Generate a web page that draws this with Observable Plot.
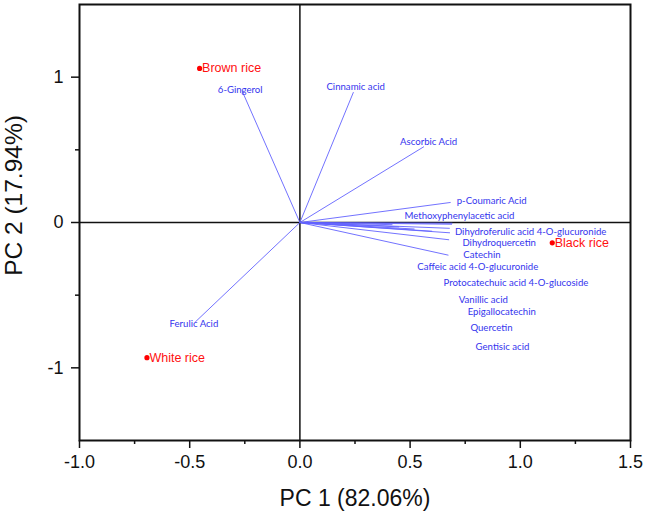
<!DOCTYPE html>
<html>
<head>
<meta charset="utf-8">
<script src="https://cdn.jsdelivr.net/npm/d3@7"></script>
<script src="https://cdn.jsdelivr.net/npm/@observablehq/plot@0.6"></script>
<style>
  html, body { margin: 0; padding: 0; background: #fff; }
</style>
</head>
<body>
<div id="chart"></div>
<script>
// Sample scores
const samples = ["Brown rice", "Black rice", "White rice"];
const samplePC1 = [-0.455, 1.145, -0.694];
const samplePC2 = [1.06, -0.14, -0.93];

// Variable loadings (arrow ends) and label positions
const variables = [
  "6-Gingerol", "Cinnamic acid", "Ascorbic Acid", "p-Coumaric Acid",
  "Methoxyphenylacetic acid", "Dihydroferulic acid 4-O-glucuronide",
  "Dihydroquercetin", "Catechin", "Caffeic acid 4-O-glucuronide",
  "Protocatechuic acid 4-O-glucoside", "Vanillic acid", "Epigallocatechin",
  "Quercetin", "Gentisic acid", "Ferulic Acid"
];
const loadPC1 = [-0.263, 0.243, 0.563, 0.684, 0.692, 0.681, 0.677, 0.674, 0.690, 0.420, 0.680, 0.520, 0.450, 0.600, -0.475];
const loadPC2 = [0.908, 0.897, 0.522, 0.138, -0.005, -0.071, -0.119, -0.225, -0.012, -0.015, -0.040, -0.045, -0.030, -0.060, -0.685];
const labelPC1 = [-0.271, 0.253, 0.584, 0.870, 0.724, 1.047, 0.904, 0.826, 0.807, 0.980, 0.832, 0.916, 0.869, 0.919, -0.481];
const labelPC2 = [0.915, 0.931, 0.552, 0.148, 0.046, -0.064, -0.138, -0.221, -0.308, -0.416, -0.535, -0.614, -0.728, -0.859, -0.697];

// Axis ticks
const xTicks = [-1.0, -0.5, 0.0, 0.5, 1.0, 1.5];
const xMinor = [-0.75, -0.25, 0.25, 0.75, 1.25];
const yTicks = [-1, 0, 1];
const yMinor = [-0.5, 0.5];
const xTitle = "PC 1 (82.06%)";
const yTitle = "PC 2 (17.94%)";

const scores = samples.map((s, i) => ({name: s, x: samplePC1[i], y: samplePC2[i]}));
const loadings = variables.map((v, i) => ({name: v, x: loadPC1[i], y: loadPC2[i], lx: labelPC1[i], ly: labelPC2[i]}));

const chart = Plot.plot({
  width: 646,
  height: 514,
  marginLeft: 79,
  marginRight: 16,
  marginTop: 4,
  marginBottom: 74,
  style: {fontFamily: "'Liberation Sans', Arial, sans-serif", background: "#fff"},
  x: {domain: [-1.0, 1.5], axis: null},
  y: {domain: [-1.5, 1.5], axis: null},
  marks: [
    Plot.axisX(xTicks, {tickSize: 8, tickPadding: 7, fontSize: 18, stroke: "#111", strokeWidth: 1.5, fill: "#111",
      tickFormat: d => d.toFixed(1), label: null}),
    Plot.axisX(xMinor, {tickSize: 4, text: null, stroke: "#111", strokeWidth: 1.5, label: null}),
    Plot.axisY(yTicks, {tickSize: 8, tickPadding: 8, fontSize: 18, stroke: "#111", strokeWidth: 1.5, fill: "#111",
      tickFormat: d => String(d), label: null}),
    Plot.axisY(yMinor, {tickSize: 4, text: null, stroke: "#111", strokeWidth: 1.5, label: null}),
    Plot.ruleX([0], {stroke: "#111", strokeWidth: 1.5}),
    Plot.ruleY([0], {stroke: "#111", strokeWidth: 1.5}),
    Plot.frame({stroke: "#111", strokeWidth: 2}),
    Plot.link(loadings, {x1: d => 0, y1: d => 0, x2: "x", y2: "y", stroke: "#6262ff", strokeWidth: 0.9}),
    Plot.text(loadings, {x: "lx", y: "ly", text: "name", fill: "#3535ee", fontSize: 9.6,
      fontFamily: "Lato, 'Open Sans', sans-serif", textAnchor: "middle", lineAnchor: "middle"}),
    Plot.dot(scores, {x: "x", y: "y", r: 2.6, fill: "#ff0000", stroke: "none"}),
    Plot.text(scores, {x: "x", y: "y", text: "name", fill: "#ff1010", fontSize: 12.5,
      textAnchor: "start", lineAnchor: "middle", dx: 2.5}),
    Plot.text([xTitle], {frameAnchor: "bottom", text: d => d, fontSize: 23, fill: "#111",
      textAnchor: "middle", lineAnchor: "bottom", dy: 65}),
    Plot.text([yTitle], {frameAnchor: "left", text: d => d, fontSize: 24.5, fill: "#111",
      rotate: -90, dx: -65, dy: -27, textAnchor: "middle", lineAnchor: "middle"})
  ]
});
document.getElementById("chart").appendChild(chart);
</script>
</body>
</html>
